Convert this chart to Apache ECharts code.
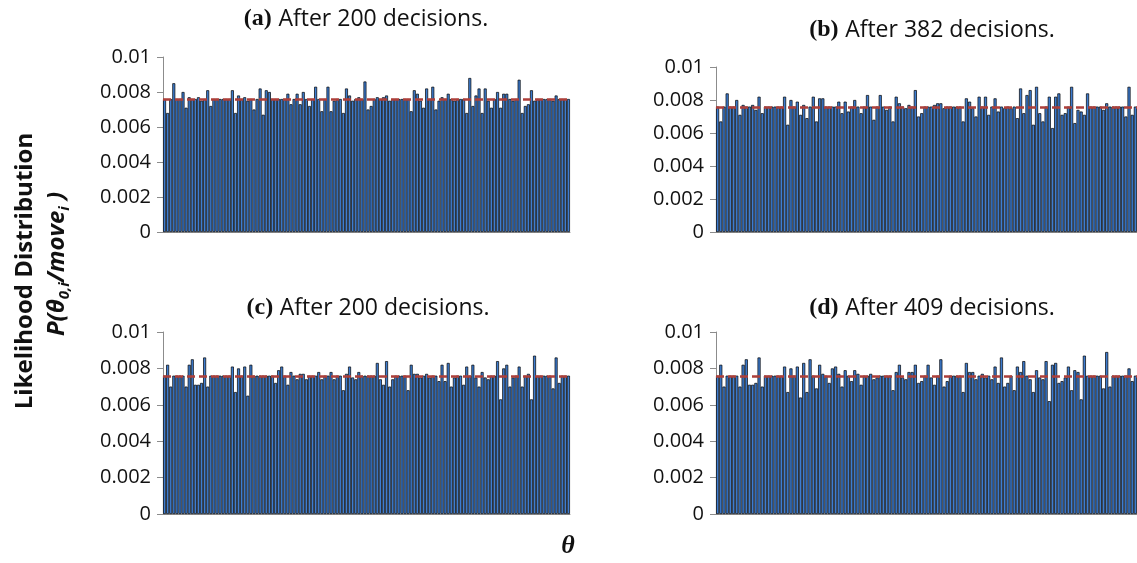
<!DOCTYPE html>
<html>
<head>
<meta charset="utf-8">
<script src="https://cdn.jsdelivr.net/npm/echarts@6/dist/echarts.min.js"></script>
<style>
html,body{margin:0;padding:0;background:#fff;}
#chart{width:1137px;height:563px;}
</style>
</head>
<body>
<div id="chart"></div>
<script>
// ---- data ----
const panelTitles = [
  ['(a)', 'After 200 decisions.'],
  ['(b)', 'After 382 decisions.'],
  ['(c)', 'After 200 decisions.'],
  ['(d)', 'After 409 decisions.']
];
const yTicks = [0, 0.002, 0.004, 0.006, 0.008, 0.01];
const uniformLevel = 0.00758;

const panelA = [
.0076,.0068,.0076,.0085,.0076,.0076,.0080,.0071,.0077,.0076,
.0076,.0077,.0075,.0076,.0081,.0072,.0076,.0076,.0076,.0076,
.0076,.0076,.0081,.0068,.0078,.0076,.0077,.0075,.0076,.0070,
.0076,.0082,.0067,.0081,.0080,.0076,.0076,.0076,.0076,.0076,
.0079,.0073,.0076,.0079,.0073,.0080,.0076,.0072,.0076,.0083,
.0076,.0069,.0076,.0083,.0069,.0075,.0076,.0076,.0068,.0082,
.0078,.0075,.0076,.0077,.0076,.0086,.0070,.0072,.0076,.0077,
.0076,.0077,.0078,.0075,.0076,.0076,.0076,.0076,.0076,.0076,
.0069,.0081,.0079,.0075,.0071,.0082,.0076,.0083,.0070,.0075,
.0077,.0076,.0079,.0076,.0075,.0076,.0076,.0076,.0068,.0088,
.0072,.0078,.0082,.0068,.0082,.0075,.0071,.0076,.0080,.0071,
.0079,.0079,.0076,.0075,.0076,.0087,.0068,.0072,.0073,.0081,
.0075,.0076,.0076,.0076,.0076,.0076,.0075,.0078,.0076,.0076,
.0076,.0076
];
const panelB = [
.0076,.0067,.0076,.0084,.0076,.0076,.0080,.0071,.0077,.0076,
.0076,.0077,.0074,.0082,.0072,.0076,.0076,.0076,.0076,.0076,
.0076,.0082,.0065,.0080,.0076,.0079,.0071,.0077,.0069,.0076,
.0082,.0067,.0081,.0081,.0076,.0076,.0076,.0076,.0079,.0072,
.0079,.0073,.0076,.0080,.0076,.0072,.0076,.0083,.0076,.0068,
.0076,.0083,.0076,.0074,.0076,.0067,.0082,.0078,.0076,.0075,
.0077,.0076,.0086,.0070,.0072,.0076,.0076,.0076,.0077,.0078,
.0078,.0075,.0076,.0076,.0076,.0076,.0076,.0067,.0081,.0079,
.0075,.0070,.0082,.0076,.0082,.0071,.0076,.0081,.0073,.0076,
.0075,.0076,.0075,.0076,.0069,.0087,.0072,.0083,.0086,.0065,
.0088,.0072,.0067,.0076,.0082,.0063,.0082,.0084,.0071,.0072,
.0076,.0088,.0066,.0074,.0073,.0071,.0084,.0076,.0076,.0076,
.0076,.0074,.0078,.0076,.0076,.0076,.0076,.0076,.0070,.0088,
.0071,.0076
];
const panelC = [
.0076,.0082,.0070,.0076,.0076,.0076,.0076,.0070,.0082,.0085,
.0071,.0071,.0072,.0086,.0070,.0076,.0076,.0076,.0076,.0076,
.0076,.0076,.0081,.0067,.0080,.0076,.0081,.0065,.0082,.0076,
.0076,.0076,.0076,.0076,.0076,.0076,.0072,.0079,.0081,.0076,
.0071,.0078,.0076,.0074,.0077,.0077,.0074,.0076,.0076,.0076,
.0078,.0074,.0076,.0076,.0078,.0074,.0076,.0076,.0068,.0077,
.0081,.0075,.0074,.0078,.0076,.0076,.0076,.0076,.0076,.0083,
.0074,.0071,.0084,.0070,.0074,.0076,.0076,.0076,.0076,.0068,
.0082,.0077,.0077,.0075,.0076,.0077,.0075,.0076,.0076,.0073,
.0082,.0073,.0083,.0070,.0075,.0076,.0076,.0071,.0081,.0076,
.0082,.0075,.0070,.0078,.0075,.0074,.0076,.0076,.0084,.0063,
.0080,.0082,.0070,.0075,.0076,.0081,.0070,.0076,.0077,.0063,
.0087,.0076,.0076,.0076,.0076,.0076,.0069,.0086,.0072,.0076,
.0076,.0076
];
const panelD = [
.0076,.0082,.0070,.0076,.0076,.0076,.0076,.0070,.0082,.0085,
.0071,.0071,.0072,.0086,.0070,.0076,.0076,.0076,.0076,.0076,
.0076,.0081,.0067,.0080,.0076,.0081,.0064,.0083,.0067,.0085,
.0076,.0069,.0082,.0077,.0076,.0072,.0080,.0081,.0077,.0070,
.0079,.0076,.0073,.0079,.0077,.0071,.0076,.0076,.0077,.0074,
.0075,.0076,.0076,.0076,.0076,.0068,.0078,.0082,.0075,.0074,
.0078,.0078,.0082,.0072,.0073,.0076,.0082,.0075,.0071,.0076,
.0085,.0070,.0073,.0076,.0076,.0076,.0076,.0067,.0083,.0078,
.0078,.0074,.0076,.0077,.0075,.0076,.0074,.0081,.0072,.0086,
.0070,.0072,.0076,.0068,.0081,.0078,.0084,.0076,.0074,.0067,
.0079,.0075,.0074,.0084,.0062,.0082,.0083,.0072,.0073,.0075,
.0081,.0068,.0079,.0078,.0063,.0087,.0076,.0076,.0076,.0076,
.0076,.0069,.0089,.0070,.0076,.0076,.0076,.0076,.0076,.0080,
.0073,.0076
];
const thetaCategories = panelA.map((_, i) => 'θ' + (i + 1));

// ---- layout ----
const grids = [
  {left: 163, top: 57, width: 407, height: 175},
  {left: 716, top: 67, width: 421, height: 165},
  {left: 163, top: 332, width: 407, height: 182},
  {left: 716, top: 332, width: 421, height: 182}
];
const titlePos = [[366, 19], [932, 30], [368, 308], [932, 308]];
const panels = [panelA, panelB, panelC, panelD];

const chart = echarts.init(document.getElementById('chart'), null, {renderer: 'canvas'});

const option = {
  animation: false,
  backgroundColor: '#ffffff',
  grid: grids.map(g => Object.assign({containLabel: false}, g)),
  xAxis: grids.map((g, i) => ({
    type: 'category',
    gridIndex: i,
    data: thetaCategories,
    axisLine: {show: true, lineStyle: {color: '#8c8c8c', width: 1}},
    axisTick: {show: false},
    axisLabel: {show: false},
    splitLine: {show: false}
  })),
  yAxis: grids.map((g, i) => ({
    type: 'value',
    gridIndex: i,
    min: 0,
    max: 0.01,
    interval: 0.002,
    axisLine: {show: true, lineStyle: {color: '#8c8c8c', width: 1}},
    axisTick: {show: true, inside: false, length: 6, lineStyle: {color: '#8c8c8c'}},
    splitLine: {show: false},
    axisLabel: {
      margin: 12,
      color: '#111',
      fontFamily: 'Open Sans',
      fontSize: 20,
      formatter: v => {
        const t = yTicks.find(x => Math.abs(x - v) < 1e-9);
        return t === undefined ? '' : String(t);
      }
    }
  })),
  series: panels.map((data, i) => ({
    type: 'bar',
    xAxisIndex: i,
    yAxisIndex: i,
    data: data,
    barCategoryGap: '4%',
    itemStyle: {color: '#3d7cd0', borderColor: '#000000', borderWidth: 0.7},
    markLine: {
      silent: true,
      precision: 6,
      symbol: ['none', 'none'],
      label: {show: false},
      lineStyle: {color: '#ad3f3a', width: 2.5, type: [8, 4]},
      data: [{yAxis: uniformLevel}]
    }
  })),
  graphic: [
    ...titlePos.map((p, i) => ({
      type: 'text',
      x: p[0],
      y: p[1],
      style: {
        text: '{p|' + panelTitles[i][0] + '}  {t|' + panelTitles[i][1] + '}',
        align: 'center',
        verticalAlign: 'middle',
        rich: {
          p: {fontFamily: 'Liberation Serif', fontWeight: 'bold', fontSize: 24, fill: '#111'},
          t: {fontFamily: 'Open Sans', fontSize: 23, fill: '#111'}
        }
      }
    })),
    {
      type: 'text',
      x: 25, y: 271,
      rotation: Math.PI / 2,
      style: {
        text: 'Likelihood Distribution',
        align: 'center', verticalAlign: 'middle',
        fontFamily: 'Open Sans', fontWeight: 'bold', fontSize: 24, fill: '#111'
      }
    },
    {
      type: 'text',
      x: 57, y: 264,
      rotation: Math.PI / 2,
      style: {
        text: '{m|P(θ}{s|0,i}{m|/move}{s|i}{m| )}',
        align: 'center', verticalAlign: 'middle',
        rich: {
          m: {fontFamily: 'Open Sans', fontWeight: 'bold', fontStyle: 'italic', fontSize: 24, fill: '#111', lineHeight: 30, verticalAlign: 'middle'},
          s: {fontFamily: 'Open Sans', fontWeight: 'bold', fontStyle: 'italic', fontSize: 15, fill: '#111', lineHeight: 30, verticalAlign: 'bottom', padding: [12, 0, 0, 0]}
        }
      }
    },
    {
      type: 'text',
      x: 568, y: 546,
      style: {
        text: 'θ',
        align: 'center', verticalAlign: 'middle',
        fontFamily: 'Liberation Serif', fontWeight: 'bold', fontStyle: 'italic', fontSize: 26, fill: '#111'
      }
    }
  ]
};
chart.setOption(option);
</script>
</body>
</html>
